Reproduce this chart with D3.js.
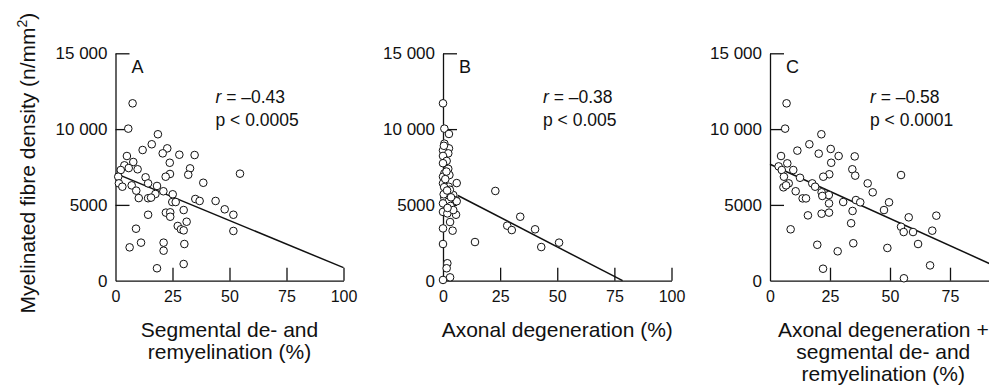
<!DOCTYPE html>
<html>
<head>
<meta charset="utf-8">
<script src="https://cdn.jsdelivr.net/npm/d3@7"></script>
<style>
  body { margin: 0; background: #fff; }
  svg { display: block; font-family: "Liberation Sans", Arial, Helvetica, sans-serif; }
</style>
</head>
<body>
<div id="chart"></div>
<script>
// ---- data ----
const xTicks = [0, 25, 50, 75, 100];
const yTicks = [0, 5000, 10000, 15000];
const yTickLabels = ["0", "5000", "10 000", "15 000"];

const panelLetters = ["A", "B", "C"];
const rValues = ["–0.43", "–0.38", "–0.58"];
const pValues = ["p < 0.0005", "p < 0.005", "p < 0.0001"];
const xTitles = [
  ["Segmental de- and", "remyelination (%)"],
  ["Axonal degeneration (%)"],
  ["Axonal degeneration +", "segmental de- and", "remyelination (%)"]
];

// A: segmental de- and remyelination (%) vs density
const segPoints = [
  [7.5, 11700], [5.6, 10030], [18.6, 9660], [15.9, 9000], [11.9, 8620], [22.7, 8730],
  [20.7, 8400], [28, 8310], [34.7, 8290], [5, 8225], [7.8, 7830], [23.8, 7780],
  [3.9, 7610], [5.8, 7430], [9.7, 7350], [32.7, 7410], [2.3, 7300], [54.6, 7060],
  [23.9, 7040], [31.9, 6990], [1.2, 6860], [13.2, 6820], [22, 6860], [1.5, 6420],
  [14.3, 6420], [38.5, 6460], [3, 6200], [7.1, 6290], [18.2, 6250], [9.1, 5940],
  [21, 5900], [17.5, 5720], [25.1, 5700], [10.2, 5450], [14.3, 5440], [15.6, 5480],
  [35, 5390], [36.9, 5260], [43.9, 5260], [24.9, 5190], [26.4, 5190], [47.9, 4710],
  [29.9, 4660], [22.1, 4490], [24, 4510], [14.3, 4350], [51.7, 4350], [24, 4220],
  [31.2, 3890], [27.3, 3610], [28.7, 3390], [29.9, 3320], [9, 3430], [51.7, 3280],
  [11.2, 2510], [21.1, 2510], [30.2, 2420], [6.2, 2200], [21.1, 1980], [29.9, 1100],
  [18.2, 820]
];
const segFit = [[0, 7080], [100, 860]];

// B: axonal degeneration (%) vs density
const axonPoints = [
  [0, 11700], [0.6, 10030], [2.6, 9680], [0.6, 9040], [2.6, 8730], [0, 8600],
  [2.3, 8400], [0, 8230], [1.6, 7900], [0, 7750], [2.3, 7380], [0.6, 7080],
  [2.8, 6970], [0, 6860], [6, 6440], [0, 6420], [2.5, 6200], [0.5, 6170],
  [22.9, 5920], [4.5, 5650], [0.6, 5460], [5.7, 5300], [2.3, 5210], [0, 5100],
  [6, 5240], [3.3, 4930], [0, 4540], [1.9, 4440], [5.7, 4350], [4.5, 4660],
  [33.8, 4220], [3.1, 3870], [28.1, 3630], [30.1, 3340], [40.3, 3390], [0, 3450],
  [4.2, 3300], [14, 2550], [50.8, 2510], [0, 2420], [43, 2220], [1.9, 1150],
  [1.6, 820], [3.1, 220], [0, 50], [1, 6700], [1.2, 5800], [3, 6000],
  [1.5, 7200], [0.3, 5700], [2, 4800], [0.4, 8900], [1.8, 5950], [3.5, 5500]
];
const axonFit = [[6.5, 5620], [78.6, 0]];

// C: axonal degeneration + segmental de- and remyelination (%) vs density
const combPoints = [
  [6.9, 11700], [6.3, 10030], [21.4, 9660], [16.4, 9000], [11.4, 8580], [25.3, 8690],
  [28.6, 8225], [20.3, 8380], [35.3, 8200], [4.6, 8225], [7.2, 7740], [25.5, 7780],
  [3.6, 7540], [4.9, 7300], [9.7, 7300], [34.3, 7350], [54.6, 6970], [35.5, 6930],
  [24.7, 7020], [5.8, 6860], [12.5, 6790], [22.2, 6860], [40.7, 6420], [7.8, 6420],
  [17.6, 6420], [5.6, 6160], [6.7, 6290], [18.8, 6200], [42.8, 5830], [10.7, 5900],
  [21.5, 5830], [24.5, 5650], [21.8, 5590], [13.6, 5430], [15, 5430], [35.8, 5320],
  [37.6, 5170], [30.5, 5190], [49.6, 5170], [24.6, 5100], [47.5, 4660], [34.4, 4600],
  [21.5, 4420], [24.6, 4490], [15.8, 4310], [57.8, 4180], [69.3, 4290], [33.8, 3790],
  [54.6, 3560], [55.7, 3210], [59.6, 3210], [67.6, 3300], [8.6, 3390], [34.7, 2470],
  [19.7, 2370], [61.7, 2420], [48.9, 2160], [28.2, 1940], [66.7, 1010], [22.1, 790],
  [55.8, 160]
];
const combFit = [[0, 7680], [100, 520]];

// ---- layout ----
const width = 989, height = 385;
const yTopPx = 53.3, yBotPx = 280.7;
const panels = [
  { x0: 115.5, x1: 343.5, pts: segPoints, fit: segFit, titleAt: 50 },
  { x0: 443, x1: 671.5, pts: axonPoints, fit: axonFit, titleAt: 50 },
  { x0: 770, x1: 1010, pts: combPoints, fit: combFit, titleAt: 47.2 }
];

const svg = d3.select("#chart").append("svg")
  .attr("width", width)
  .attr("height", height);

svg.append("rect").attr("width", width).attr("height", height).attr("fill", "#fff");

let yScale = d3.scaleLinear().domain([0, 15000]).range([yBotPx, yTopPx]);

panels.forEach(function(p, i) {
  let xScale = d3.scaleLinear().domain([0, 100]).range([p.x0, p.x1]);
  let g = svg.append("g");

  // only the ticks that fall inside the picture (panel C runs off the right edge)
  let shownTicks = xTicks.filter(function(v) { return xScale(v) < width; });

  // x axis, ticks point inward
  let xAxis = g.append("g")
    .attr("transform", "translate(0," + yBotPx + ")")
    .call(d3.axisBottom(xScale).tickValues(shownTicks).tickSizeInner(-13).tickSizeOuter(0).tickPadding(10));
  xAxis.selectAll("text").attr("font-size", 16).attr("fill", "#111");

  // y axis
  let yAxis = g.append("g")
    .attr("transform", "translate(" + p.x0 + ",0)")
    .call(d3.axisLeft(yScale).tickValues(yTicks).tickSizeInner(-14).tickSizeOuter(0).tickPadding(8)
      .tickFormat(function(d, k) { return yTickLabels[k]; }));
  yAxis.selectAll("text").attr("font-size", 17).attr("fill", "#111");

  g.selectAll(".domain, .tick line").attr("stroke", "#111").attr("stroke-width", 1.3);
  g.selectAll(".tick").filter(function(d) { return d === 0; }).select("line").remove();

  // regression line
  let line = d3.line()
    .x(function(d) { return xScale(d[0]); })
    .y(function(d) { return yScale(d[1]); });
  g.append("path")
    .datum(p.fit)
    .attr("d", line)
    .attr("fill", "none")
    .attr("stroke", "#111")
    .attr("stroke-width", 1.5);

  // points
  g.selectAll(".dot")
    .data(p.pts)
    .enter().append("circle")
    .attr("class", "dot")
    .attr("cx", function(d) { return xScale(d[0]); })
    .attr("cy", function(d) { return yScale(d[1]); })
    .attr("r", 3.8)
    .attr("fill", "#fff")
    .attr("stroke", "#111")
    .attr("stroke-width", 1);

  // panel letter
  g.append("text")
    .attr("x", p.x0 + 16)
    .attr("y", 72.7)
    .attr("font-size", 18)
    .attr("fill", "#111")
    .text(panelLetters[i]);

  // statistics
  let stat = g.append("text")
    .attr("x", p.x0 + 100)
    .attr("y", 102.7)
    .attr("font-size", 17.5)
    .attr("fill", "#111");
  stat.append("tspan").attr("font-style", "italic").text("r");
  stat.append("tspan").text(" = " + rValues[i]);
  g.append("text")
    .attr("x", p.x0 + 100)
    .attr("y", 125.7)
    .attr("font-size", 17.5)
    .attr("fill", "#111")
    .text(pValues[i]);

  // x title
  g.selectAll(".xtitle")
    .data(xTitles[i])
    .enter().append("text")
    .attr("class", "xtitle")
    .attr("x", xScale(p.titleAt))
    .attr("y", function(d, k) { return 336.5 + k * 22.3; })
    .attr("text-anchor", "middle")
    .attr("font-size", 21)
    .attr("fill", "#111")
    .text(function(d) { return d; });
});

// y title
let yTitle = svg.append("text")
  .attr("transform", "translate(35,163) rotate(-90)")
  .attr("text-anchor", "middle")
  .attr("font-size", 21)
  .attr("fill", "#111");
yTitle.append("tspan").text("Myelinated fibre density (n/mm");
yTitle.append("tspan").attr("font-size", 14).attr("dy", -8).text("2");
yTitle.append("tspan").attr("dy", 8).text(")");
</script>
</body>
</html>
